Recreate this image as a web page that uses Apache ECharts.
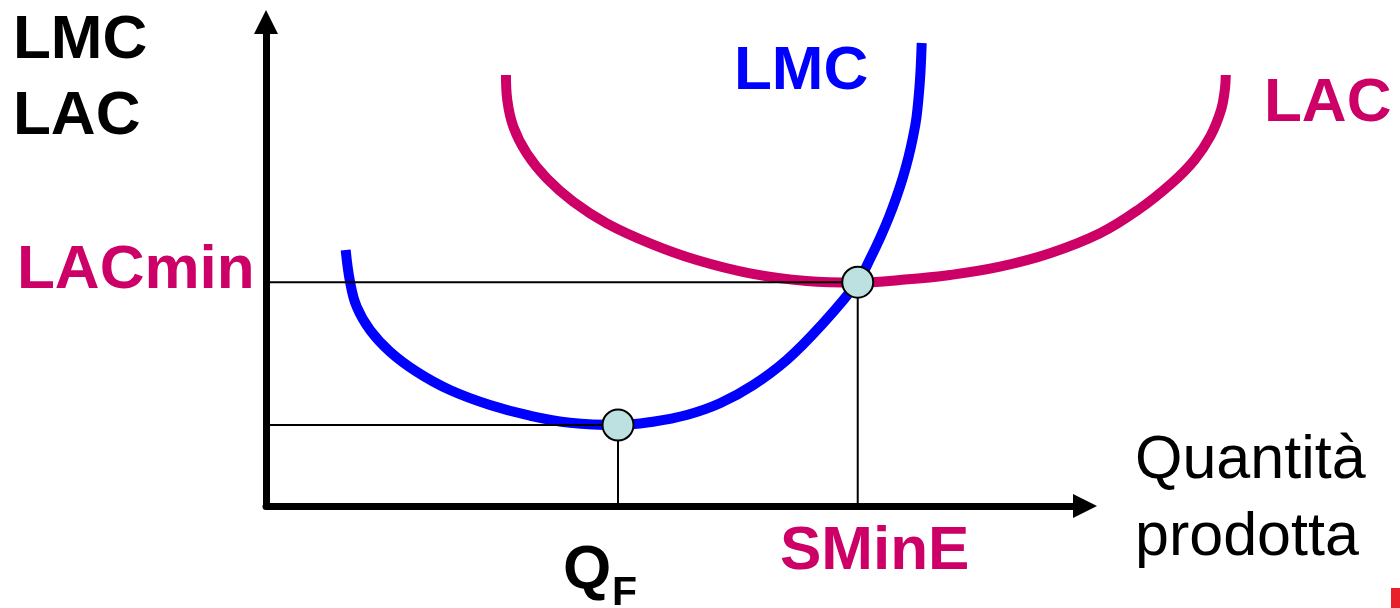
<!DOCTYPE html>
<html>
<head>
<meta charset="utf-8">
<script src="https://cdn.jsdelivr.net/npm/echarts@6/dist/echarts.min.js"></script>
<style>
html, body { margin: 0; padding: 0; background: #fff; }
</style>
</head>
<body>
<div id="main" style="width: 1400px;height:608px;"></div>

<script type="text/javascript">
// curve points (quantity and cost in axis units, axis ends at 100)
var lmcQ    = [9.73, 10.26, 11.07, 12.70, 15.14, 18.40, 22.47, 27.35, 32.23, 37.12, 42.98, 47.25, 51.37, 55.43, 59.50, 63.58, 67.64, 72.25, 73.87, 75.03, 76.07, 76.98, 77.78, 78.45, 79.00, 79.43, 79.85, 80.06];
var lmcCost = [52.89, 46.34, 41.18, 36.36, 31.88, 27.75, 23.97, 20.87, 18.66, 17.21, 16.74, 17.42, 18.80, 21.22, 25.00, 30.17, 37.05, 46.34, 51.45, 55.58, 59.71, 63.84, 67.98, 72.11, 76.24, 80.37, 88.02, 95.66];

var lacQ    = [29.30, 29.46, 30.20, 31.83, 34.27, 37.52, 41.60, 46.89, 52.59, 59.10, 66.02, 72.13, 77.41, 83.52, 89.62, 95.73, 101.83, 106.47, 110.62, 113.37, 115.32, 116.61, 117.07, 117.19];
var lacCost = [89.05, 83.88, 78.37, 72.87, 67.71, 62.87, 58.41, 54.28, 50.83, 48.08, 46.49, 46.14, 46.69, 47.73, 49.44, 52.21, 56.34, 61.16, 66.74, 71.49, 76.45, 81.82, 85.95, 89.05];

// the two marked points: minimum of LMC (Q_F) and minimum of LAC (SMinE)
var pointQ    = [42.98, 72.25];
var pointCost = [16.74, 46.25];

function pairs(xs, ys) {
	var list = [];
	for (var i = 0; i < xs.length; i++) {
		list.push([xs[i], ys[i]]);
	}
	return list;
}

// dropped lines from a point to both axes
function guide(q, c) {
	return [[0, c], [q, c], [q, 0]];
}

var myChart = echarts.init(document.getElementById('main'));

var FONT = '"Liberation Sans", Arial, sans-serif';
var MAGENTA = '#CC0066';
var BLUE = '#0000FF';

function hiddenAxis(max, idx) {
	return {
		type: 'value', gridIndex: idx, min: 0, max: max,
		axisLine: { show: false }, axisTick: { show: false },
		axisLabel: { show: false }, splitLine: { show: false }
	};
}

function shownAxis() {
	return {
		type: 'value', gridIndex: 0, min: 0, max: 100,
		axisLine: {
			show: true,
			symbol: ['none', 'triangle'],
			symbolSize: [24, 24],
			lineStyle: { color: '#000', width: 7 }
		},
		axisTick: { show: false },
		axisLabel: { show: false },
		splitLine: { show: false }
	};
}

function label(text, x, y, size, color, weight) {
	return {
		type: 'text', x: x, y: y,
		style: {
			text: text,
			font: (weight || 'bold') + ' ' + size + 'px ' + FONT,
			fill: color,
			verticalAlign: 'top'
		}
	};
}

option = {
	animation: false,
	backgroundColor: '#fff',
	// grid 0 carries the drawn axes, grid 1 has the same scale but runs further right
	// so the LAC curve can go past the arrow of the quantity axis
	grid: [
		{ left: 266, top: 22, width: 819, height: 484 },
		{ left: 266, top: 22, width: 819 * 1.25, height: 484 }
	],
	xAxis: [shownAxis(), hiddenAxis(125, 1)],
	yAxis: [shownAxis(), hiddenAxis(100, 1)],
	series: [
		{
			name: 'LMC',
			type: 'line',
			xAxisIndex: 1, yAxisIndex: 1,
			data: pairs(lmcQ, lmcCost),
			smooth: 0.4,
			symbol: 'none',
			lineStyle: { color: BLUE, width: 10 },
			z: 2
		},
		{
			name: 'LAC',
			type: 'line',
			xAxisIndex: 1, yAxisIndex: 1,
			data: pairs(lacQ, lacCost),
			smooth: 0.4,
			symbol: 'none',
			lineStyle: { color: MAGENTA, width: 10 },
			z: 2
		},
		{
			type: 'line',
			data: guide(pointQ[0], pointCost[0]),
			symbol: 'none',
			lineStyle: { color: '#000', width: 2 },
			z: 3
		},
		{
			type: 'line',
			data: guide(pointQ[1], pointCost[1]),
			symbol: 'none',
			lineStyle: { color: '#000', width: 2 },
			z: 3
		},
		{
			type: 'scatter',
			data: pairs(pointQ, pointCost),
			symbolSize: 31,
			itemStyle: { color: '#BDE0E1', borderColor: '#000', borderWidth: 2, opacity: 1 },
			z: 4
		}
	],
	graphic: [
		label('LMC', 13, 10, 62, '#000'),
		label('LAC', 13, 86, 62, '#000'),
		label('LACmin', 17, 239.5, 62, MAGENTA),
		label('LMC', 734, 40.5, 62, BLUE),
		label('LAC', 1264, 73, 62, MAGENTA),
		label('SMinE', 780, 521, 62, MAGENTA),
		label('Q', 563, 540, 62, '#000'),
		label('F', 612, 573, 41, '#000'),
		label('Quantità', 1135, 430.5, 61, '#000', 'normal'),
		label('prodotta', 1135, 508, 61, '#000', 'normal'),
		// red fragment at the bottom-right corner
		{ type: 'rect', shape: { x: 1391, y: 588, width: 9, height: 20 }, style: { fill: '#E8202A' } }
	]
};

myChart.setOption(option);
</script>
</body>

</html>
